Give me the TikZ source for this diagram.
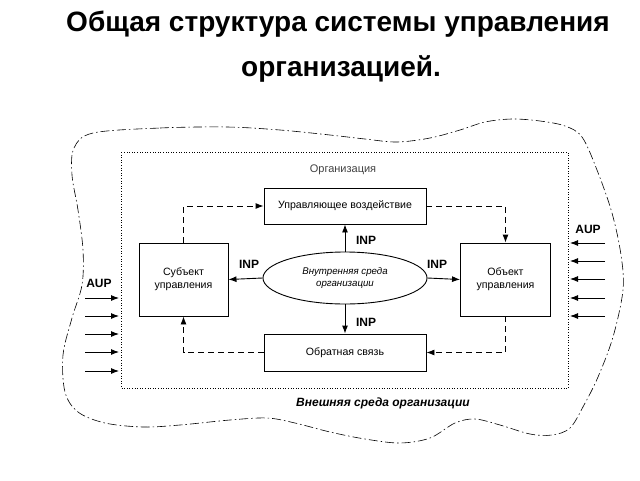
\documentclass[tikz,border=0pt]{standalone}
\usepackage{fontspec}
\setmainfont{Liberation Sans}
\usetikzlibrary{arrows.meta,shapes.geometric}
\begin{document}
\begin{tikzpicture}[x=1pt,y=-1pt,
  box/.style={draw,line width=0.9pt,inner sep=0pt,align=center,font=\fontsize{10.6}{13}\selectfont},
  lbl/.style={font=\bfseries\fontsize{12}{14}\selectfont},
  arr/.style={-{Latex[length=8pt,width=6pt]},line width=0.9pt},
  darr/.style={arr,dash pattern=on 6pt off 4pt},
  cloud/.style={line width=0.6pt,dash pattern=on 9pt off 3pt on 1.5pt off 3pt}]
\useasboundingbox (0,0) rectangle (640,480);

% title
\node[font=\bfseries\fontsize{28}{32}\selectfont] (t1) at (338,24) {Общая структура системы управления};
\node[font=\bfseries\fontsize{28}{32}\selectfont] (t2) at (341,69) {организацией.};

% outer cloud
\draw[cloud] plot[smooth cycle,tension=0.55] coordinates {
 (93,133) (160,128) (227,127) (280,130) (330,135) (365,139) (397,142) (430,138)
 (460,130) (485,122) (512,119) (540,121) (565,126) (582,137) (597,170) (612,213)
 (621,255) (623,290) (613,337) (598,377) (584,405) (570,428) (552,435) (530,434)
 (500,425) (475,419) (455,423) (430,438) (400,443) (365,439) (330,432) (295,423)
 (267,418) (230,420) (180,425) (143,427) (105,423) (78,412) (65,392) (63,355)
 (72,318) (82,285) (83,250) (78,210) (72,175) (74,148)};

% organisation frame
\draw[line width=0.6pt,dotted] (121,152) rectangle (568,388);
\node[font=\fontsize{11}{13}\selectfont,text=black!75] (org) at (343,170) {Организация};

% boxes
\node[box,minimum width=162pt,minimum height=36pt] (upr) at (345,206) {Управляющее воздействие};
\node[box,minimum width=89pt,minimum height=73pt] (subj) at (183.5,279.5) {Субъект\\управления};
\node[box,minimum width=90pt,minimum height=73pt] (obj) at (505.5,279.5) {Объект\\управления};
\node[box,minimum width=162pt,minimum height=37pt] (obr) at (345,352.5) {Обратная связь};
\node[draw,ellipse,line width=0.9pt,inner sep=0pt,minimum width=164pt,minimum height=52pt,align=center,
  font=\itshape\fontsize{9.7}{12}\selectfont] (ell) at (345,278) {Внутренняя среда\\организации};

% solid arrows
\draw[arr] (ell.north) -- (upr.south);
\draw[arr] (ell.south) -- (obr.north);
\draw[arr] (ell.west) -- (subj.east);
\draw[arr] (ell.east) -- (obj.west);

% dashed loop
\draw[darr] (subj.north) |- (upr.west);
\draw[darr] (upr.east) -| (obj.north);
\draw[darr] (obj.south) |- (obr.east);
\draw[darr] (obr.west) -| (subj.south);

% INP labels
\node[lbl] (i1) at (366,240) {INP};
\node[lbl] (i2) at (249,264) {INP};
\node[lbl] (i3) at (437,264) {INP};
\node[lbl] (i4) at (366,322) {INP};

% AUP
\node[lbl] (aupl) at (99,283) {AUP};
\node[lbl] (aupr) at (588,229) {AUP};
\foreach \yy in {298,316,334,352,371} {
  \coordinate (la\yy) at (85,\yy);
  \coordinate (lb\yy) at (119,\yy);
  \draw[arr] (la\yy) -- (lb\yy);
}
\foreach \yy in {243,261,279,298,316} {
  \coordinate (ra\yy) at (605,\yy);
  \coordinate (rb\yy) at (570,\yy);
  \draw[arr] (ra\yy) -- (rb\yy);
}

\node[font=\bfseries\itshape\fontsize{12}{14}\selectfont] (ext) at (383,403) {Внешняя среда организации};
\end{tikzpicture}
\end{document}
